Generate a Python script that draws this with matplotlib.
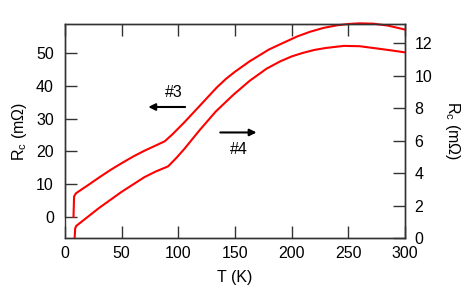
"""Contact resistance vs temperature for samples #3 and #4"""

import matplotlib
matplotlib.use("Agg")
import matplotlib.pyplot as plt

plt.rcParams['font.family'] = ['Liberation Sans', 'DejaVu Sans']
plt.rcParams['mathtext.fontset'] = 'custom'
plt.rcParams['mathtext.rm'] = 'Liberation Sans'
plt.rcParams['mathtext.it'] = 'Liberation Sans:italic'

# sample #3 (left axis)
temp_3 = [7.5, 8, 9.7, 20, 30, 40, 50, 60, 70, 80, 88, 95, 105, 119, 127,
          134, 142, 150, 163, 180, 193, 205, 216, 228, 240, 250, 260, 272,
          285, 300]
rc_3 = [0, 6.2, 7.2, 9.6, 12.0, 14.3, 16.4, 18.4, 20.2, 21.8, 23.1, 25.3,
        28.8, 34.0, 37.0, 39.6, 42.2, 44.4, 47.6, 51.2, 53.3, 55.2, 56.6,
        57.8, 58.6, 59.0, 59.2, 59.1, 58.5, 57.3]

# sample #4 (right axis)
temp_4 = [8.5, 9, 10, 20, 30, 40, 50, 60, 70, 80, 91, 98, 105, 119, 133,
          148.5, 163, 178, 190, 200, 210, 220, 230, 246, 260, 272, 285, 300]
rc_4 = [0, 0.6, 0.75, 1.3, 1.85, 2.35, 2.85, 3.3, 3.75, 4.1, 4.42, 4.92,
        5.47, 6.67, 7.8, 8.83, 9.7, 10.45, 10.9, 11.2, 11.42, 11.6, 11.72,
        11.85, 11.83, 11.72, 11.6, 11.45]

left_ticks = [0, 10, 20, 30, 40, 50]
right_ticks = [0, 2, 4, 6, 8, 10, 12]
x_ticks = [0, 50, 100, 150, 200, 250, 300]

fs = 11.5

fig = plt.figure(figsize=(4.69, 2.97), dpi=100)
ax = fig.add_axes([65 / 469, 59 / 297, 340 / 469, 214 / 297])
ax2 = ax.twinx()

ax.plot(temp_3, rc_3, color='red', linewidth=1.5, clip_on=False)
ax2.plot(temp_4, rc_4, color='red', linewidth=1.5, clip_on=False)

ax.set_xlim(0, 300)
ax.set_ylim(-6.5, 59)
ax2.set_ylim(0, 13.2)

spine_col = '#333333'
for a in (ax, ax2):
    for s in a.spines.values():
        s.set_color(spine_col)
        s.set_linewidth(1.0)
ax.spines['left'].set_bounds(0, 59)

ax.set_xticks(x_ticks)
ax.set_yticks(left_ticks)
ax2.set_yticks(right_ticks)
ax.tick_params(axis='x', direction='in', length=8.5, width=1, color=spine_col,
               top=True, labelsize=fs, pad=6)
ax.tick_params(axis='y', direction='in', length=8.5, width=1, color=spine_col,
               labelsize=fs, pad=8)
ax2.tick_params(axis='y', direction='in', length=8.5, width=1, color=spine_col,
                labelsize=fs, pad=7)

ax.set_xlabel('T (K)', fontsize=fs, labelpad=6)
ax.set_ylabel(r'R$_\mathrm{c}$ (m$\Omega$)', fontsize=fs, labelpad=5)
ax2.set_ylabel(r'R$_\mathrm{c}$ (m$\Omega$)', fontsize=fs, rotation=-90,
               labelpad=21)

arrow = dict(arrowstyle='-|>', color='black', linewidth=1.5,
             mutation_scale=10, shrinkA=0, shrinkB=0)
ax.annotate('', xy=(73.5, 33.6), xytext=(106, 33.6), arrowprops=arrow)
ax.annotate('', xy=(169, 25.8), xytext=(137, 25.8), arrowprops=arrow)
ax.text(95.6, 37.9, '#3', fontsize=fs, ha='center', va='center')
ax.text(153, 20.7, '#4', fontsize=fs, ha='center', va='center')

fig.savefig('out.png', dpi=100)
